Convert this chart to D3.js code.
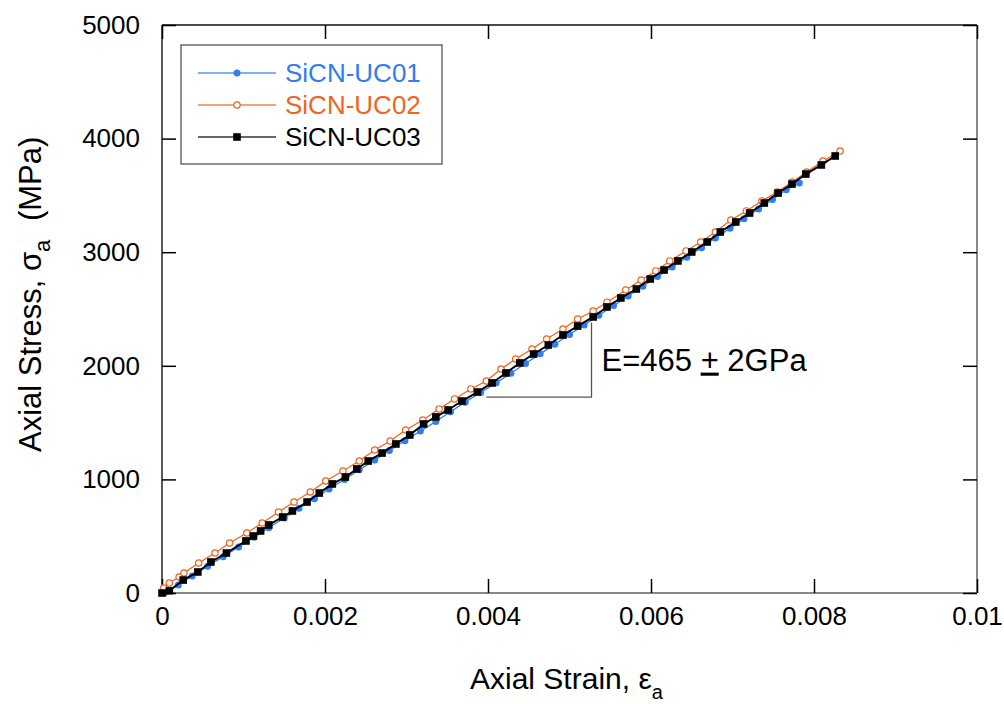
<!DOCTYPE html>
<html>
<head>
<meta charset="utf-8">
<script src="https://cdn.jsdelivr.net/npm/d3@7"></script>
<style>
  body { margin: 0; background: #fff; }
  svg text { font-family: "Liberation Sans", Arial, sans-serif; }
</style>
</head>
<body>
<div id="chart"></div>
<script>
// --- Data ---
const xTicks = [0, 0.002, 0.004, 0.006, 0.008, 0.01];
const xTickLabels = ['0', '0.002', '0.004', '0.006', '0.008', '0.01'];
const yTicks = [0, 1000, 2000, 3000, 4000, 5000];

const uc01Strain = [0.00003, 0.00020, 0.00037, 0.00056, 0.00075, 0.00094, 0.00113, 0.00131, 0.00150, 0.00168,
    0.00187, 0.00205, 0.00224, 0.00242, 0.00261, 0.00279, 0.00298, 0.00317, 0.00336, 0.00354,
    0.00372, 0.00391, 0.00410, 0.00428, 0.00446, 0.00464, 0.00482, 0.00500, 0.00518, 0.00536,
    0.00554, 0.00572, 0.00590, 0.00608, 0.00626, 0.00644, 0.00662, 0.00679, 0.00697, 0.00714,
    0.00732, 0.00749, 0.00766, 0.00782];
const uc01Stress = [0, 70, 150, 235, 320, 405, 490, 575, 660, 745,
    830, 915, 1000, 1085, 1170, 1255, 1340, 1425, 1510, 1595,
    1680, 1765, 1850, 1935, 2020, 2105, 2190, 2275, 2360, 2445,
    2530, 2615, 2700, 2785, 2870, 2955, 3040, 3125, 3210, 3295,
    3380, 3465, 3550, 3610];

const uc02Strain = [0.00002, 0.00009, 0.00021, 0.00027, 0.00045, 0.00065, 0.00083, 0.00104, 0.00123, 0.00143,
    0.00162, 0.00182, 0.00201, 0.00222, 0.00242, 0.00261, 0.00280, 0.00299, 0.00320, 0.00340,
    0.00359, 0.00379, 0.00398, 0.00416, 0.00434, 0.00454, 0.00472, 0.00492, 0.00510, 0.00529,
    0.00546, 0.00569, 0.00588, 0.00606, 0.00623, 0.00643, 0.00661, 0.00679, 0.00698, 0.00717,
    0.00736, 0.00755, 0.00773, 0.00791, 0.00811, 0.00832];
const uc02Stress = [44, 88, 141, 176, 264, 352, 440, 528, 616, 713,
    801, 889, 986, 1074, 1162, 1259, 1338, 1435, 1523, 1620,
    1708, 1796, 1866, 1972, 2060, 2148, 2236, 2324, 2412, 2482,
    2560, 2667, 2755, 2835, 2923, 3011, 3090, 3178, 3283, 3363,
    3451, 3530, 3618, 3706, 3803, 3891];

const uc03Strain = [0, 0.00009, 0.00026, 0.00044, 0.00060, 0.00079, 0.00103, 0.00112, 0.00121, 0.00131,
    0.00148, 0.00160, 0.00178, 0.00193, 0.00209, 0.00225, 0.00239, 0.00253, 0.00270, 0.00287,
    0.00304, 0.00321, 0.00336, 0.00351, 0.00368, 0.00387, 0.00405, 0.00422, 0.00439, 0.00456,
    0.00474, 0.00492, 0.00510, 0.00529, 0.00546, 0.00563, 0.00582, 0.00599, 0.00616, 0.00633,
    0.00650, 0.00669, 0.00685, 0.00704, 0.00721, 0.00739, 0.00756, 0.00773, 0.00790, 0.00809,
    0.00826];
const uc03Stress = [0, 20, 114, 185, 273, 352, 458, 502, 546, 599,
    669, 722, 801, 880, 960, 1021, 1092, 1162, 1232, 1312,
    1391, 1488, 1550, 1611, 1690, 1769, 1849, 1937, 2025, 2104,
    2183, 2271, 2350, 2430, 2518, 2597, 2676, 2764, 2843, 2923,
    3002, 3090, 3178, 3266, 3345, 3433, 3521, 3600, 3688, 3768,
    3847];

const seriesNames = ['SiCN-UC01', 'SiCN-UC02', 'SiCN-UC03'];
const seriesColors = ['#2f7cf3', '#f0651f', '#000000'];

// slope triangle corners (strain, stress)
const slopeStrain = [0.00398, 0.00527];
const slopeStress = [1725, 2380];

// --- Setup ---
const width = 1004, height = 704;
const margin = { top: 25, right: 27, bottom: 111, left: 162 };
const iw = width - margin.left - margin.right;
const ih = height - margin.top - margin.bottom;

const svg = d3.select('#chart').append('svg')
    .attr('width', width)
    .attr('height', height);

const g = svg.append('g').attr('transform', `translate(${margin.left},${margin.top})`);

const x = d3.scaleLinear().domain([0, 0.01]).range([0, iw]);
const y = d3.scaleLinear().domain([0, 5000]).range([ih, 0]);

// frame
g.append('line').attr('x1', 0).attr('x2', iw).attr('y1', ih).attr('y2', ih).attr('stroke', '#888').attr('stroke-width', 2);
g.append('line').attr('x1', iw).attr('x2', iw).attr('y1', 0).attr('y2', ih).attr('stroke', '#888').attr('stroke-width', 2);
g.append('line').attr('x1', 0).attr('x2', iw).attr('y1', 0).attr('y2', 0).attr('stroke', '#111').attr('stroke-width', 1.5);
g.append('line').attr('x1', 0).attr('x2', 0).attr('y1', 0).attr('y2', ih).attr('stroke', '#222').attr('stroke-width', 1.5);

// axes (ticks inward on all sides)
const tl = 14;
const xAxis = g.append('g').attr('transform', `translate(0,${ih})`)
    .call(d3.axisBottom(x).tickValues(xTicks).tickSize(-tl).tickPadding(tl + 10).tickFormat((d, i) => xTickLabels[i]));
const xTop = g.append('g').call(d3.axisTop(x).tickValues(xTicks).tickSize(-tl).tickFormat(''));
const yAxis = g.append('g')
    .call(d3.axisLeft(y).tickValues(yTicks).tickSize(-tl).tickPadding(tl + 8).tickFormat(d3.format('d')));
const yRight = g.append('g').attr('transform', `translate(${iw},0)`)
    .call(d3.axisRight(y).tickValues(yTicks).tickSize(-tl).tickFormat(''));

[xAxis, xTop, yAxis, yRight].forEach(a => {
    a.select('.domain').remove();
    a.selectAll('.tick line').attr('stroke', '#000').attr('stroke-width', 1.5);
    a.selectAll('.tick text').attr('font-size', 26).attr('fill', '#000')
        .style('font-family', '"Liberation Sans", Arial, sans-serif');
});
xAxis.selectAll('.tick text').attr('dy', '0.3em');

// --- Series ---
const series = [
    { xs: uc01Strain, ys: uc01Stress },
    { xs: uc02Strain, ys: uc02Stress },
    { xs: uc03Strain, ys: uc03Stress }
].map((s, i) => ({
    name: seriesNames[i],
    color: seriesColors[i],
    points: s.xs.map((v, j) => [v, s.ys[j]])
}));

const line = d3.line().x(d => x(d[0])).y(d => y(d[1]));

function drawMarker(sel, i, color) {
    if (i === 0) {
        sel.append('circle').attr('r', 3.5).attr('fill', color);
    } else if (i === 1) {
        sel.append('circle').attr('r', 3.2).attr('fill', '#fff').attr('stroke', color).attr('stroke-width', 1.2);
    } else {
        sel.append('rect').attr('x', -3.8).attr('y', -3.8).attr('width', 7.6).attr('height', 7.6).attr('fill', color);
    }
}

series.forEach((s, i) => {
    g.append('path')
        .datum(s.points)
        .attr('fill', 'none')
        .attr('stroke', s.color)
        .attr('stroke-width', i === 2 ? 2 : 1.3)
        .attr('d', line);
    g.append('g').selectAll('g')
        .data(s.points)
        .enter()
        .append('g')
        .attr('transform', d => `translate(${x(d[0])},${y(d[1])})`)
        .each(function () { drawMarker(d3.select(this), i, s.color); });
});

// --- Slope annotation ---
g.append('path')
    .attr('fill', 'none')
    .attr('stroke', '#555')
    .attr('stroke-width', 1.3)
    .attr('d', `M${x(slopeStrain[0])},${y(slopeStress[0])}H${x(slopeStrain[1])}V${y(slopeStress[1])}`);

const eText = g.append('text')
    .attr('x', x(slopeStrain[1]) + 10)
    .attr('y', y(slopeStress[1]) + 48)
    .attr('font-size', 31)
    .attr('fill', '#000');
eText.append('tspan').text('E=465 ');
eText.append('tspan').style('text-decoration', 'underline').text('+');
eText.append('tspan').text(' 2GPa');

// --- Legend ---
const legend = svg.append('g').attr('transform', 'translate(181,45)');
legend.append('rect')
    .attr('width', 261).attr('height', 119)
    .attr('fill', '#fff').attr('stroke', '#555').attr('stroke-width', 1.3);
series.forEach((s, i) => {
    const row = legend.append('g').attr('transform', `translate(0,${28 + i * 32})`);
    row.append('line').attr('x1', 17).attr('x2', 95)
        .attr('stroke', s.color).attr('stroke-width', i === 2 ? 2 : 1.3)
        .attr('stroke-opacity', i === 2 ? 0.6 : 0.8);
    drawMarker(row.append('g').attr('transform', 'translate(56,0)'), i, s.color);
    row.append('text')
        .attr('x', 104).attr('dy', '0.36em')
        .attr('font-size', 26)
        .attr('fill', s.color)
        .text(s.name);
});

// --- Axis titles ---
const xt = svg.append('text')
    .attr('x', 470).attr('y', 689)
    .attr('font-size', 30).attr('fill', '#000');
xt.append('tspan').text('Axial Strain, ε');
xt.append('tspan').attr('dy', 10).attr('font-size', 20).text('a');

const yt = svg.append('text')
    .attr('transform', 'translate(41,452) rotate(-90)')
    .attr('font-size', 31).attr('fill', '#000');
yt.append('tspan').text('Axial Stress, σ');
yt.append('tspan').attr('dy', 9).attr('font-size', 22).text('a');
yt.append('tspan').attr('dy', -9).attr('dx', 10).text(' (MPa)');
</script>
</body>
</html>
